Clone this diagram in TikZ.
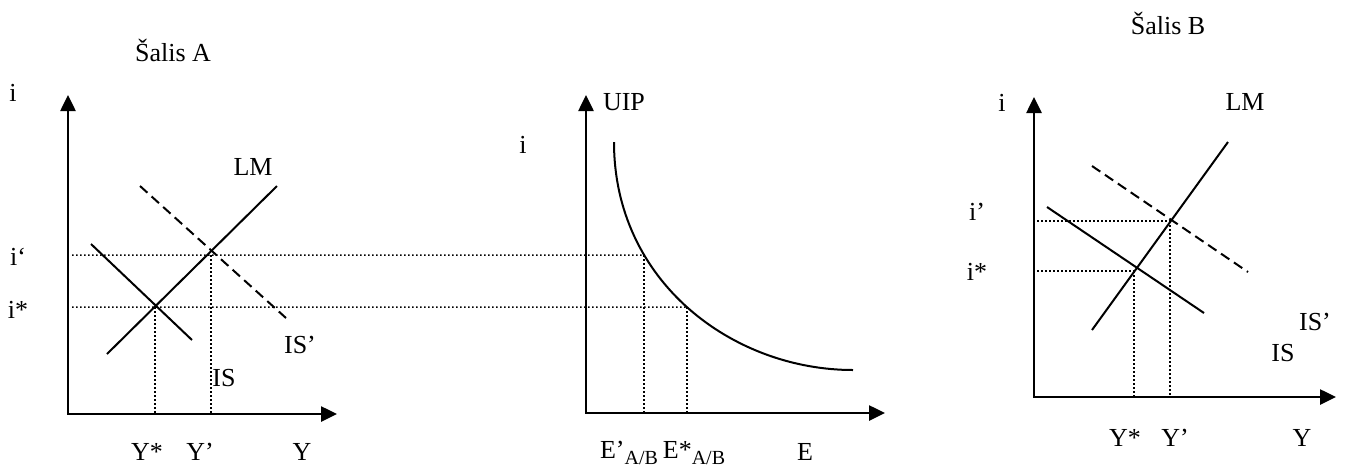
\documentclass[tikz,border=0pt]{standalone}
\usepackage{fontspec}
\setmainfont{Liberation Serif}
\usetikzlibrary{arrows.meta,intersections}
\newcommand{\lowidx}[1]{\raisebox{-0.45ex}{\fontsize{10}{11}\selectfont #1}}

\begin{document}
\begin{tikzpicture}[x=0.5pt, y=-0.5pt, font=\fontsize{13}{15}\selectfont,
    axis/.style={line width=1.3pt, {Triangle[length=8pt,width=7.5pt]}-{Triangle[length=8pt,width=7.5pt]}},
    curve/.style={line width=1pt},
    shifted/.style={line width=1pt, dash pattern=on 5pt off 2.8pt},
    guide/.style={line width=0.75pt, dash pattern=on 0.75pt off 1.25pt}]
\useasboundingbox (0,0) rectangle (1346,468);

% Salis A
\coordinate (oA) at (68,414);
\coordinate (topA) at (68,95);
\coordinate (endA) at (337,414);
\draw[axis] (topA) -- (oA) -- (endA);
\coordinate (lmA1) at (107,354);
\coordinate (lmA2) at (277,186);
\coordinate (isA1) at (91,244);
\coordinate (isA2) at (192,340);
\coordinate (isnA1) at (140,186);
\coordinate (isnA2) at (286,318);
\draw[curve] (lmA1) -- (lmA2);
\draw[curve] (isA1) -- (isA2);
\draw[shifted] (isnA1) -- (isnA2);
\coordinate (eqA) at (155,307);
\coordinate (newA) at (211,255);
\coordinate (ipA) at (72,255);
\coordinate (isA) at (72,307);
\node (titleA) at (173,50) {Šalis A};
\node (iA) at (13,93) {i};
\node (lmA) at (253,167) {LM};
\node (ipAlab) at (18,257) {i‘};
\node (isAlab) at (18,310) {i*};
\node (isnA) at (300,345) {IS’};
\node (isAlab2) at (224,378) {IS};
\node (ysA) at (147,452) {Y*};
\node (ypA) at (200,452) {Y’};
\node (yA) at (302,452) {Y};

% UIP
\coordinate (oE) at (586,413);
\coordinate (topE) at (586,95);
\coordinate (endE) at (885,413);
\draw[axis] (topE) -- (oE) -- (endE);
\coordinate (uip1) at (614,142);
\coordinate (uip2) at (853,370);
\draw[curve, name path=uip] (uip1) .. controls (614,282) and (733,370) .. (uip2);
\path[name path=lvlP] (586,255) -- (900,255);
\path[name path=lvlS] (586,307) -- (900,307);
\path[name intersections={of=uip and lvlP, by=eP}];
\path[name intersections={of=uip and lvlS, by=eS}];
\draw[guide] (ipA) -- (eP);
\draw[guide] (isA) -- (eS);
\draw[guide] (eqA) -- (eqA |- oA);
\draw[guide] (newA) -- (newA |- oA);
\draw[guide] (eP) -- (eP |- oE);
\draw[guide] (eS) -- (eS |- oE);
\node (uip) at (624,102) {UIP};
\node (iE) at (523,145) {i};
\node (epE) at (629,453) {E’\lowidx{A/B}};
\node (esE) at (694,453) {E*\lowidx{A/B}};
\node (eE) at (805,452) {E};

% Salis B
\coordinate (oB) at (1034,397);
\coordinate (topB) at (1034,97);
\coordinate (endB) at (1336,397);
\draw[axis] (topB) -- (oB) -- (endB);
\coordinate (lmB1) at (1092,330);
\coordinate (lmB2) at (1228,142);
\coordinate (isB1) at (1047,207);
\coordinate (isB2) at (1204,313);
\coordinate (isnB1) at (1092,166);
\coordinate (isnB2) at (1248,272);
\draw[curve] (lmB1) -- (lmB2);
\draw[curve] (isB1) -- (isB2);
\draw[shifted] (isnB1) -- (isnB2);
\coordinate (eqB) at (1134,271);
\coordinate (newB) at (1170,221);
\coordinate (ipB) at (1037,221);
\coordinate (isB) at (1037,271);
\draw[guide] (ipB) -- (newB);
\draw[guide] (isB) -- (eqB);
\draw[guide] (eqB) -- (eqB |- oB);
\draw[guide] (newB) -- (newB |- oB);
\node (titleB) at (1168,23) {Šalis B};
\node (iB) at (1002,103) {i};
\node (lmB) at (1245,102) {LM};
\node (ipBlab) at (977,212) {i’};
\node (isBlab) at (977,272) {i*};
\node (isnB) at (1315,322) {IS’};
\node (isBlab2) at (1283,353) {IS};
\node (ysB) at (1125,438) {Y*};
\node (ypB) at (1175,438) {Y’};
\node (yB) at (1302,438) {Y};
\end{tikzpicture}
\end{document}
